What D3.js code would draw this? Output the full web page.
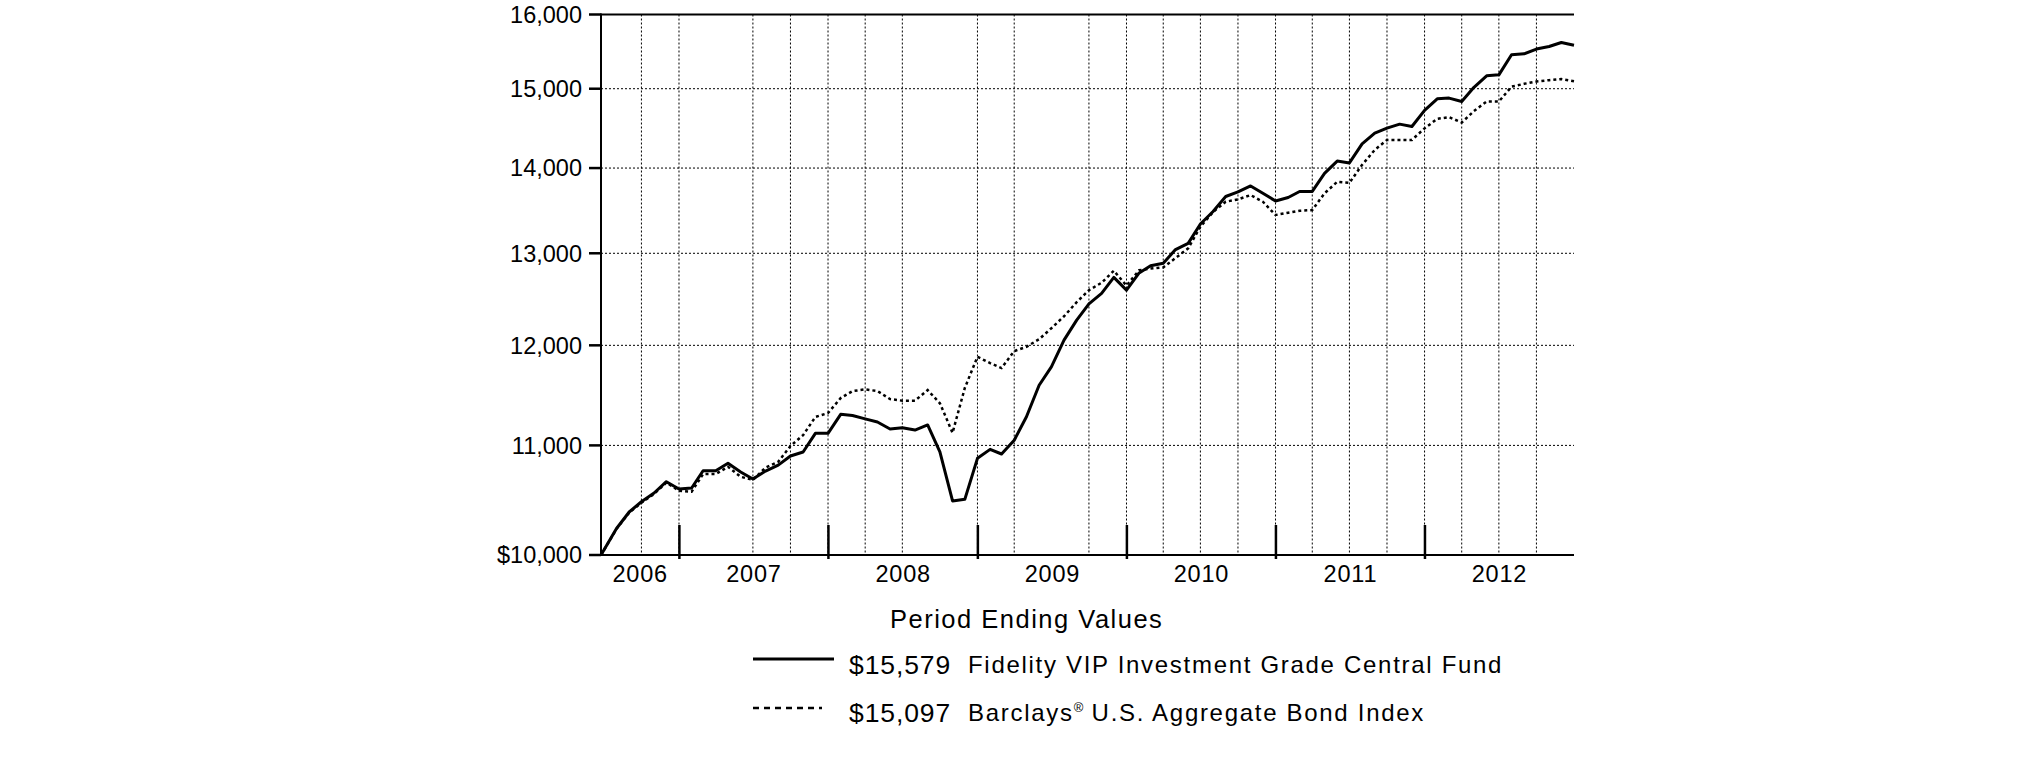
<!DOCTYPE html>
<html>
<head>
<meta charset="utf-8">
<script src="https://cdn.jsdelivr.net/npm/d3@7"></script>
<style>
body { margin: 0; background: #fff; }
text { font-family: "Liberation Sans", Arial, sans-serif; fill: #000; }
</style>
</head>
<body>
<svg id="chart" width="2025" height="761"></svg>
<script>
// start of the period, then month ends Jul 2006 .. Dec 2012
var startDate = new Date(2006, 5, 23);
var endDate = new Date(2012, 11, 31);

var fundValues = [10000,
	10233, 10381, 10474, 10554, 10658, 10590,
	10600, 10760, 10760, 10830, 10748, 10683, 10757, 10813, 10899, 10937, 11116, 11116,
	11301, 11289, 11257, 11226, 11158, 11171, 11148, 11197, 10939, 10481, 10496, 10877,
	10962, 10918, 11050, 11277, 11591, 11778, 12054, 12266, 12440, 12554, 12730, 12590,
	12780, 12860, 12887, 13042, 13113, 13335, 13481, 13658, 13712, 13784, 13696, 13605,
	13646, 13718, 13718, 13935, 14085, 14063, 14297, 14431, 14494, 14545, 14515, 14721,
	14869, 14878, 14834, 15018, 15169, 15182, 15449, 15462, 15526, 15561, 15615, 15579];

var indexValues = [10000,
	10230, 10375, 10465, 10545, 10650, 10575,
	10566, 10729, 10729, 10797, 10704, 10675, 10790, 10844, 10994, 11099, 11275, 11314,
	11462, 11532, 11549, 11532, 11452, 11436, 11436, 11542, 11410, 11121, 11563, 11881,
	11816, 11765, 11940, 11985, 12064, 12180, 12307, 12459, 12590, 12671, 12804, 12640,
	12810, 12828, 12841, 12946, 13056, 13303, 13475, 13596, 13624, 13675, 13596, 13440,
	13467, 13490, 13498, 13696, 13833, 13821, 14039, 14223, 14347, 14347, 14347, 14492,
	14612, 14634, 14565, 14712, 14834, 14834, 15027, 15064, 15094, 15112, 15127, 15097];

var yTicks = [10000, 11000, 12000, 13000, 14000, 15000, 16000];
var yTickLabels = ["$10,000", "11,000", "12,000", "13,000", "14,000", "15,000", "16,000"];
var years = [2006, 2007, 2008, 2009, 2010, 2011, 2012];
// quarter ends with no grid line in the picture
var gridSkip = ["2007-03", "2008-09", "2009-06"];

var legendTitle = "Period Ending Values";
var legendAmounts = ["$15,579", "$15,097"];
var legendNames = ["Fidelity VIP Investment Grade Central Fund", "Barclays"];

var svg = d3.select("#chart");
var plotLeft = 601, plotRight = 1574, plotTop = 14.5, plotBottom = 555;

var periodDates = [startDate].concat(
	d3.timeMonth.range(new Date(2006, 7, 1), new Date(2013, 0, 2))
		.map(function(d) { return d3.timeDay.offset(d, -1); }));

var x = d3.scaleTime().domain([startDate, endDate]).range([plotLeft, plotRight]);
var y = d3.scaleLog().domain([10000, 16000]).range([plotBottom, plotTop]);

// grid lines
var quarterEnds = d3.timeMonth.range(new Date(2006, 9, 1), new Date(2013, 0, 1), 3)
	.map(function(d) { return d3.timeDay.offset(d, -1); })
	.filter(function(d) { return gridSkip.indexOf(d3.timeFormat("%Y-%m")(d)) < 0; });

svg.append("g").selectAll("line")
	.data(quarterEnds)
	.enter().append("line")
	.attr("x1", function(d) { return x(d); })
	.attr("x2", function(d) { return x(d); })
	.attr("y1", plotTop).attr("y2", plotBottom)
	.attr("stroke", "#000").attr("stroke-width", 1)
	.attr("stroke-dasharray", "2,2");

svg.append("g").selectAll("line")
	.data(yTicks.slice(1, -1))
	.enter().append("line")
	.attr("x1", plotLeft).attr("x2", plotRight)
	.attr("y1", function(d) { return y(d); })
	.attr("y2", function(d) { return y(d); })
	.attr("stroke", "#000").attr("stroke-width", 1)
	.attr("stroke-dasharray", "2,2");

// frame
svg.append("line").attr("x1", plotLeft).attr("x2", plotRight).attr("y1", plotTop).attr("y2", plotTop)
	.attr("stroke", "#000").attr("stroke-width", 2);
svg.append("line").attr("x1", plotLeft).attr("x2", plotRight).attr("y1", plotBottom).attr("y2", plotBottom)
	.attr("stroke", "#000").attr("stroke-width", 2);
svg.append("line").attr("x1", plotLeft).attr("x2", plotLeft).attr("y1", plotTop - 1).attr("y2", plotBottom + 1)
	.attr("stroke", "#000").attr("stroke-width", 2);

// y axis ticks and labels
var yAxis = svg.append("g");
yAxis.selectAll("line")
	.data(yTicks)
	.enter().append("line")
	.attr("x1", plotLeft - 12).attr("x2", plotLeft)
	.attr("y1", function(d) { return y(d); })
	.attr("y2", function(d) { return y(d); })
	.attr("stroke", "#000").attr("stroke-width", 2.5);
yAxis.selectAll("text")
	.data(yTicks)
	.enter().append("text")
	.attr("x", 582)
	.attr("y", function(d) { return y(d) + 8.3; })
	.attr("text-anchor", "end")
	.style("font-size", "23.5px")
	.text(function(d, i) { return yTickLabels[i]; });

// year ticks and labels
var xAxis = svg.append("g");
xAxis.selectAll("line")
	.data(years.slice(1))
	.enter().append("line")
	.attr("x1", function(d) { return x(new Date(d, 0, 1)); })
	.attr("x2", function(d) { return x(new Date(d, 0, 1)); })
	.attr("y1", 525).attr("y2", 559)
	.attr("stroke", "#000").attr("stroke-width", 2.5);
xAxis.selectAll("text")
	.data(years)
	.enter().append("text")
	.attr("x", function(d) {
		var a = d3.max([new Date(d, 0, 1), startDate]);
		var b = d3.min([new Date(d + 1, 0, 1), endDate]);
		return (x(a) + x(b)) / 2;
	})
	.attr("y", 581.7)
	.attr("text-anchor", "middle")
	.style("font-size", "23.5px")
	.style("letter-spacing", "0.8px")
	.text(function(d) { return d; });

// series
var line = d3.line()
	.x(function(d, i) { return x(periodDates[i]); })
	.y(function(d) { return y(d); });

svg.append("path")
	.attr("d", line(indexValues))
	.attr("fill", "none").attr("stroke", "#000")
	.attr("stroke-width", 2.5).attr("stroke-dasharray", "3,3");

svg.append("path")
	.attr("d", line(fundValues))
	.attr("fill", "none").attr("stroke", "#000")
	.attr("stroke-width", 3).attr("stroke-linejoin", "round");

// legend
svg.append("text")
	.attr("x", 890).attr("y", 628)
	.style("font-size", "25.5px").style("letter-spacing", "1.5px")
	.text(legendTitle);

var legendRows = [{ y: 674, swatch: 659, dash: null, width: 3, len: 81 },
	{ y: 721.7, swatch: 708, dash: "6,5", width: 2.5, len: 69 }];

legendRows.forEach(function(r, i) {
	svg.append("line")
		.attr("x1", 753).attr("x2", 753 + r.len)
		.attr("y1", r.swatch).attr("y2", r.swatch)
		.attr("stroke", "#000").attr("stroke-width", r.width)
		.attr("stroke-dasharray", r.dash);
	svg.append("text")
		.attr("x", 849).attr("y", r.y)
		.style("font-size", "26.5px").style("letter-spacing", "0.9px")
		.text(legendAmounts[i]);
	var t = svg.append("text")
		.attr("x", 968).attr("y", r.y - 0.7)
		.style("font-size", "24px").style("letter-spacing", "1.7px");
	t.append("tspan").text(legendNames[i]);
	if (i == 1) {
		t.append("tspan").attr("dy", -9).style("font-size", "13px").style("letter-spacing", "0px").text("\u00AE");
		t.append("tspan").attr("dy", 9).text(" U.S. Aggregate Bond Index");
	}
});
</script>
</body>
</html>
